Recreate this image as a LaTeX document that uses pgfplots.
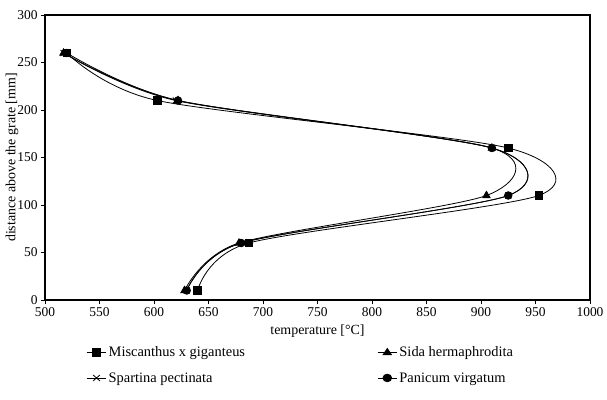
\documentclass[border=0pt]{standalone}
\usepackage{pgfplots}
\pgfplotsset{compat=1.18}
\usepackage{fontspec}
\setmainfont{Liberation Serif}
\begin{document}
\begin{tikzpicture}[x=1bp,y=1bp]
\begin{axis}[
  at={(0,0)}, anchor=south west,
  scale only axis, width=545bp, height=285bp,
  xmin=500, xmax=1000, ymin=0, ymax=300,
  xtick={500,550,...,1000}, ytick={0,50,...,300},
  tick align=outside, xtick pos=bottom, ytick pos=left,
  major tick length=4bp,
  axis line style={line width=1.5bp},
  tick style={line width=0.8bp, black},
  ticklabel style={font=\fontsize{13.5}{16}\selectfont},
  /pgf/number format/assume math mode=true,
  /pgf/number format/1000 sep={},
  xlabel={temperature [°C]}, ylabel={distance above the grate [mm]},
  label style={font=\fontsize{14}{16}\selectfont},
  xlabel style={yshift=-1bp},
  ylabel style={yshift=-8bp},
  legend columns=2,
  legend cell align=left,
  legend style={at={(0.07,-0.15)}, anchor=north west, draw=none, fill=none,
    font=\fontsize{14.5}{16}\selectfont, row sep=10bp,
    /tikz/every even column/.append style={column sep=130bp}},
  legend image post style={xscale=1.15},
  every axis plot/.append style={black, line width=0.8bp, smooth, tension=0.45},
]
\addplot[mark=square*, mark size=3.8bp, mark options={solid}] coordinates {
 (520,260) (603,210) (925,160) (953,110) (687,60) (640,10)};
\addlegendentry{Miscanthus x giganteus}
\addplot[mark=triangle*, mark size=4.2bp] coordinates {
 (517,260) (622,210) (910,160) (905,110) (678,60) (628,10)};
\addlegendentry{Sida hermaphrodita}
\addplot[mark=x, mark size=4.2bp] coordinates {
 (517,260) (620,210) (910,160) (925,110) (680,60) (630,10)};
\addlegendentry{Spartina pectinata}
\addplot[mark=*, mark size=3.8bp] coordinates {
 (520,260) (622,210) (910,160) (925,110) (680,60) (630,10)};
\addlegendentry{Panicum virgatum}
\end{axis}
\pgfresetboundingbox
\path[use as bounding box] (-45bp,-100bp) rectangle (562bp,300bp);
\end{tikzpicture}
\end{document}
